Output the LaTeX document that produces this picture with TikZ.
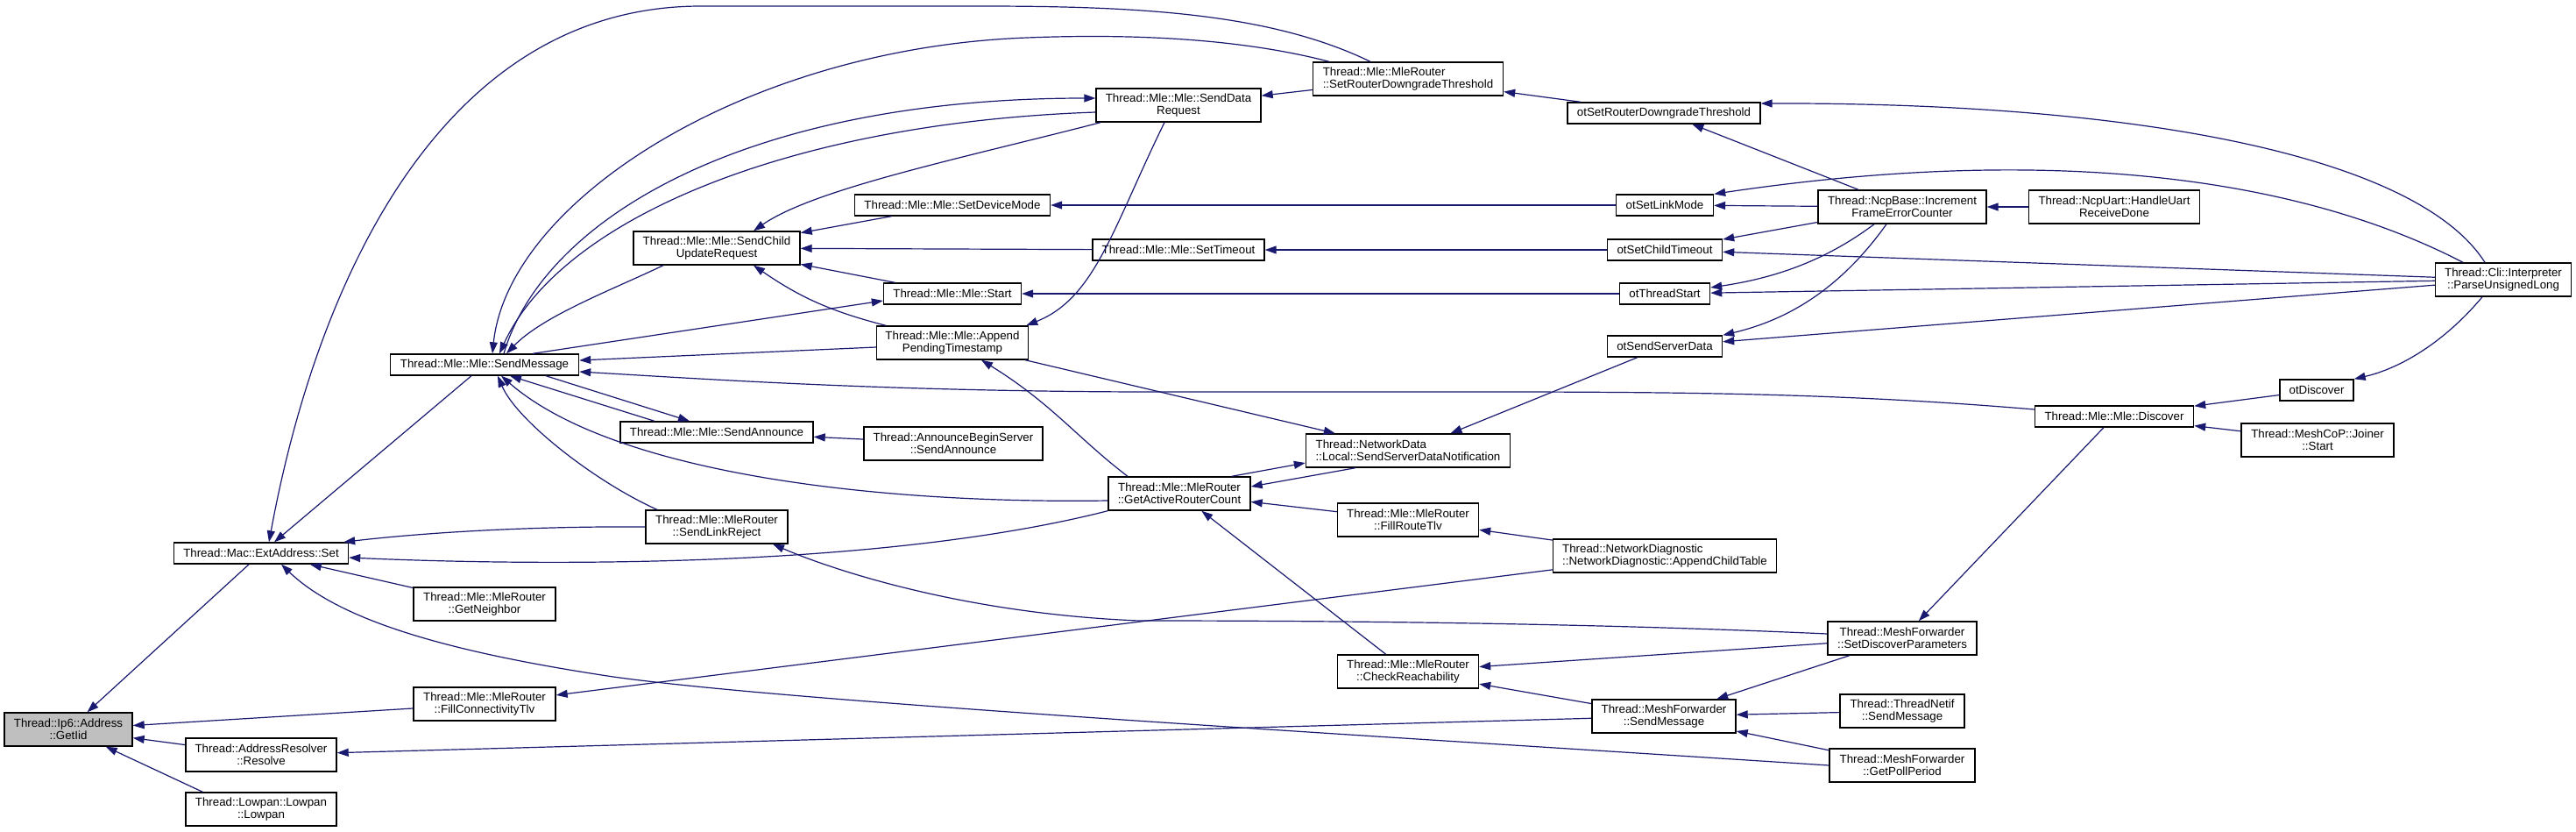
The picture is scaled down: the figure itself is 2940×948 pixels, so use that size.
\documentclass[tikz,border=0pt]{standalone}
\usepackage{fontspec}
\newfontfamily\dotfont{Liberation Sans}
\usetikzlibrary{arrows.meta}
\definecolor{edgeblue}{RGB}{25,25,112}
\tikzset{
  fn/.style={draw=black, line width=1.4pt, fill=white, font={\dotfont\fontsize{13.3pt}{13.6pt}\selectfont},
    inner xsep=4pt, inner ysep=0pt, minimum height=24pt, align=center},
  tall/.style={minimum height=38pt},
  root/.style={fn, tall, fill=black!25},
  call/.style={draw=edgeblue, line width=1.2pt, -{Triangle[length=13pt,width=9pt]}}
}
\begin{document}
\begin{tikzpicture}[x=1pt,y=-1pt]
\fill[white] (0,0) rectangle (2940,948);
\useasboundingbox (0,0) rectangle (2940,948);

\node[root, minimum width=146pt] (getiid) at (78,832) {Thread::Ip6::Address\\::GetIid};

\node[fn, minimum width=199pt] (extset) at (298,631) {Thread::Mac::ExtAddress::Set};
\node[fn, tall, minimum width=172pt] (resolve) at (298,861) {Thread::AddressResolver\\::Resolve};
\node[fn, tall, minimum width=172pt] (lowpan) at (298,923) {Thread::Lowpan::Lowpan\\::Lowpan};

\node[fn, minimum width=215pt] (mlesend) at (553,416) {Thread::Mle::Mle::SendMessage};
\node[fn, tall, minimum width=162pt] (getnb) at (553,689) {Thread::Mle::MleRouter\\::GetNeighbor};
\node[fn, tall, minimum width=162pt] (fillconn) at (553,803) {Thread::Mle::MleRouter\\::FillConnectivityTlv};

\node[fn, tall, minimum width=190pt] (childupd) at (818,283) {Thread::Mle::Mle::SendChild\\UpdateRequest};
\node[fn, minimum width=220pt] (announce) at (818,493) {Thread::Mle::Mle::SendAnnounce};
\node[fn, tall, minimum width=162pt] (linkrej) at (818,601) {Thread::Mle::MleRouter\\::SendLinkReject};

\node[fn, minimum width=223pt] (devmode) at (1087,234) {Thread::Mle::Mle::SetDeviceMode};
\node[fn, minimum width=157pt] (mlestart) at (1087,335) {Thread::Mle::Mle::Start};
\node[fn, tall, minimum width=173pt] (appendts) at (1087,391) {Thread::Mle::Mle::Append\\PendingTimestamp};
\node[fn, tall, minimum width=204pt] (abserver) at (1088,506) {Thread::AnnounceBeginServer\\::SendAnnounce};

\node[fn, tall, minimum width=188pt] (datareq) at (1345,120) {Thread::Mle::Mle::SendData\\Request};
\node[fn, minimum width=196pt] (settimeout) at (1345,285) {Thread::Mle::Mle::SetTimeout};
\node[fn, tall, minimum width=162pt] (activecnt) at (1346,563) {Thread::Mle::MleRouter\\::GetActiveRouterCount};

\node[fn, tall, align=left, minimum width=217pt] (downgrade) at (1607,90) {Thread::Mle::MleRouter\\::SetRouterDowngradeThreshold};
\node[fn, tall, align=left, minimum width=233pt] (srvnotif) at (1607,514) {Thread::NetworkData\\::Local::SendServerDataNotification};
\node[fn, tall, minimum width=161pt] (fillroute) at (1607,593) {Thread::Mle::MleRouter\\::FillRouteTlv};
\node[fn, tall, minimum width=161pt] (checkreach) at (1607,766) {Thread::Mle::MleRouter\\::CheckReachability};

\node[fn, minimum width=220pt] (otdowngrade) at (1899,129) {otSetRouterDowngradeThreshold};
\node[fn, minimum width=111pt] (otlinkmode) at (1900,234) {otSetLinkMode};
\node[fn, minimum width=131pt] (otchildto) at (1900,285) {otSetChildTimeout};
\node[fn, minimum width=103pt] (otstart) at (1900,335) {otThreadStart};
\node[fn, minimum width=131pt] (otserver) at (1900,395) {otSendServerData};
\node[fn, tall, align=left, minimum width=255pt] (childtable) at (1900,634) {Thread::NetworkDiagnostic\\::NetworkDiagnostic::AppendChildTable};
\node[fn, tall, minimum width=164pt] (meshsend) at (1899,817) {Thread::MeshForwarder\\::SendMessage};

\node[fn, tall, minimum width=192pt] (ncperr) at (2171,236) {Thread::NcpBase::Increment\\FrameErrorCounter};
\node[fn, tall, minimum width=170pt] (discparam) at (2171,728) {Thread::MeshForwarder\\::SetDiscoverParameters};
\node[fn, tall, minimum width=142pt] (netifsend) at (2171,811) {Thread::ThreadNetif\\::SendMessage};
\node[fn, tall, minimum width=166pt] (pollperiod) at (2171,873) {Thread::MeshForwarder\\::GetPollPeriod};

\node[fn, tall, minimum width=195pt] (uartdone) at (2413,236) {Thread::NcpUart::HandleUart\\ReceiveDone};
\node[fn, minimum width=181pt] (discover) at (2413,475) {Thread::Mle::Mle::Discover};

\node[fn, minimum width=84pt] (otdiscover) at (2644,445) {otDiscover};
\node[fn, tall, minimum width=174pt] (joiner) at (2645,502) {Thread::MeshCoP::Joiner\\::Start};

\node[fn, tall, minimum width=155pt] (parselong) at (2857,319) {Thread::Cli::Interpreter\\::ParseUnsignedLong};

% callers of GetIid
\draw[call] (extset) -- (getiid);
\draw[call] (fillconn) -- (getiid);
\draw[call] (resolve) -- (getiid);
\draw[call] ([xshift=20pt]lowpan.north west) -- ([xshift=-31pt]getiid.south east);

% callers of ExtAddress::Set
\draw[call] (mlesend) -- (extset);
\draw[call] ([xshift=-43pt]downgrade.north) .. controls (1450,15) and (1300,7) .. (1120,7) -- (800,7)
  .. controls (500,7) and (360,330) .. ([xshift=9pt]extset.north);
\draw[call] (linkrej.west) .. controls (600,600) and (480,608) .. ([xshift=-6pt]extset.north east);
\draw[call] (activecnt.south west) .. controls (1000,650) and (600,645) .. ([yshift=-5pt]extset.east);
\draw[call] (getnb) -- (extset);
\draw[call] (pollperiod.west) .. controls (1500,835) and (900,800) .. (700,772)
  .. controls (520,745) and (390,710) .. ([xshift=23pt]extset.south);

% callers of Mle::SendMessage
\draw[call] ([xshift=-90pt]downgrade.north) .. controls (1420,45) and (1300,38) .. (1172,43)
  .. controls (850,55) and (580,230) .. ([xshift=9pt]mlesend.north);
\draw[call] ([yshift=-8pt]datareq.west) .. controls (900,140) and (640,250) .. ([xshift=17pt]mlesend.north);
\draw[call] ([xshift=-61pt]childupd.south) .. controls (700,330) and (620,360) .. ([xshift=25pt]mlesend.north);
\draw[call] ([yshift=-5pt]appendts.west) -- ([yshift=5pt]mlesend.east);
\draw[call] ([yshift=8pt]discover.west) .. controls (2120,450) and (1950,447) .. (1700,447) -- (1300,447)
  .. controls (1000,446) and (800,432) .. ([yshift=-8pt]mlesend.east);
\draw[call] ([xshift=-68pt]linkrej.north) .. controls (680,550) and (590,480) .. ([xshift=15pt]mlesend.south);
\draw[call] ([yshift=-8pt]activecnt.west) .. controls (1000,575) and (700,540) .. ([xshift=19pt]mlesend.south);
\draw[call] ([xshift=-71pt]announce.north) -- ([xshift=29pt]mlesend.south);
\draw[call] ([xshift=70pt]mlesend.south) -- ([xshift=-31pt]announce.north);
\draw[call] ([xshift=22pt]mlesend.north) .. controls (620,250) and (850,112) .. ([yshift=8pt]datareq.west);
\draw[call] ([xshift=55pt]mlesend.north) -- ([yshift=-8pt]mlestart.west);

% callers of SendChildUpdateRequest
\draw[call] ([xshift=-89pt]datareq.south) .. controls (1100,180) and (930,215) .. ([xshift=42pt]childupd.north);
\draw[call] (devmode) -- (childupd);
\draw[call] (settimeout) -- (childupd);
\draw[call] (mlestart) -- (childupd);
\draw[call] ([xshift=-76pt]appendts.north) to[bend left=10] ([xshift=42pt]childupd.south);

% second rank
\draw[call] (downgrade) -- (datareq);
\draw[call] ([xshift=-16pt]datareq.south) .. controls (1270,260) and (1250,340) .. ([xshift=-3pt]appendts.north east);
\draw[call] ([xshift=-59pt]activecnt.north) .. controls (1230,500) and (1200,460) .. ([xshift=33pt]appendts.south);
\draw[call] (otdowngrade) -- (downgrade);
\draw[call] (otlinkmode) -- (devmode);
\draw[call] (otchildto) -- (settimeout);
\draw[call] (otstart) -- (mlestart);
\draw[call] (abserver) -- (announce);

% network data and router count
\draw[call] (fillroute) -- (activecnt);
\draw[call] ([xshift=-60pt]srvnotif.south) -- ([yshift=8pt]activecnt.east);
\draw[call] (checkreach) -- (activecnt);
\draw[call] ([xshift=-22pt]activecnt.north east) -- ([yshift=-14pt]srvnotif.west);
\draw[call] (appendts) -- (srvnotif);
\draw[call] (otserver) -- (srvnotif);
\draw[call] (childtable) -- (fillroute);
\draw[call] (childtable) -- (fillconn);

% mesh forwarder
\draw[call] ([yshift=5pt]discparam.west) .. controls (1800,710) and (1500,708) .. (1300,708)
  .. controls (1100,700) and (950,650) .. ([xshift=64pt]linkrej.south);
\draw[call] (discparam) -- (checkreach);
\draw[call] (meshsend) -- (checkreach);
\draw[call] (discparam) -- (meshsend);
\draw[call] (netifsend) -- (meshsend);
\draw[call] (pollperiod) -- (meshsend);
\draw[call] (meshsend) -- (resolve);
\draw[call] (discover) -- (discparam);

% ncp and cli
\draw[call] (ncperr) -- (otdowngrade);
\draw[call] (ncperr) -- (otlinkmode);
\draw[call] (ncperr) -- (otchildto);
\draw[call] ([xshift=-32pt]ncperr.south) .. controls (2080,300) and (2020,318) .. ([yshift=7pt]otstart.east);
\draw[call] ([xshift=-18pt]ncperr.south) .. controls (2100,330) and (2040,365) .. (otserver.north east);
\draw[call] (uartdone) -- (ncperr);
\draw[call] ([xshift=-21pt]parselong.north) .. controls (2760,180) and (2450,117) .. ([yshift=11pt]otdowngrade.east);
\draw[call] ([xshift=-46pt]parselong.north) .. controls (2600,190) and (2300,170) .. (otlinkmode.north east);
\draw[call] (parselong) -- (otchildto);
\draw[call] (parselong) -- (otstart);
\draw[call] (parselong) -- (otserver);
\draw[call] ([xshift=-24pt]parselong.south) .. controls (2790,390) and (2740,420) .. (otdiscover.north east);
\draw[call] (otdiscover) -- (discover);
\draw[call] (joiner) -- (discover);
\end{tikzpicture}
\end{document}
